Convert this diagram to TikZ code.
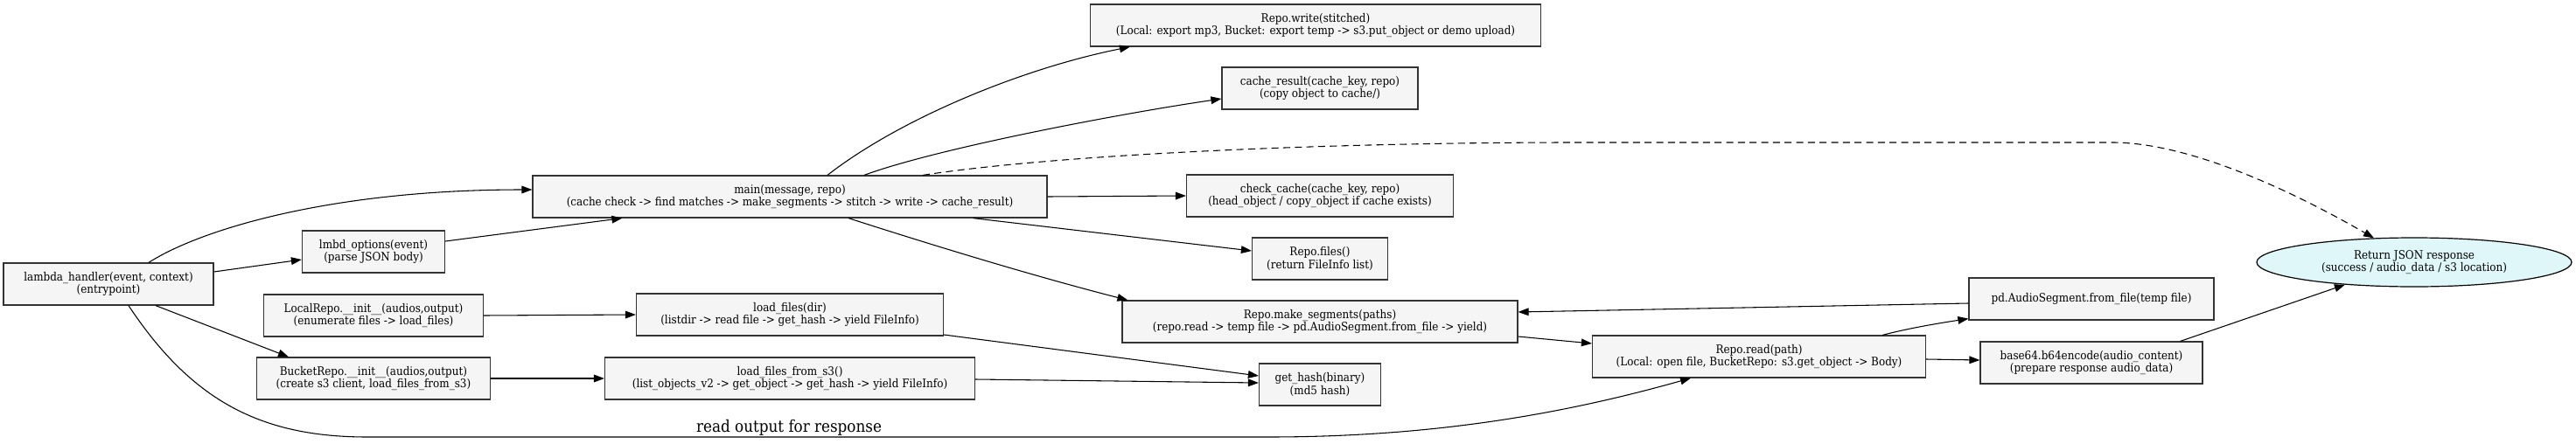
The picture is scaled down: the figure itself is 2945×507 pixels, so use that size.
\documentclass[tikz,border=0pt]{standalone}
\usepackage{fontspec}
\setmainfont{DejaVu Serif Condensed}
\usetikzlibrary{arrows.meta,calc,shapes.geometric}
\definecolor{boxfill}{HTML}{F5F5F5}
\definecolor{retfill}{HTML}{E0F7FA}
\begin{document}
\begin{tikzpicture}[x=0.75pt,y=-0.75pt,
  box/.style={draw=black!80, fill=boxfill, line width=0.9pt, minimum height=36pt, inner sep=1pt, align=center, font=\fontsize{10}{11}\selectfont},
  retnode/.style={ellipse, draw=black, fill=retfill, line width=0.9pt, minimum width=270pt, minimum height=42pt, inner sep=0pt, align=center, font=\fontsize{10}{11}\selectfont},
  edge/.style={line width=0.8pt, -{Triangle[length=9pt,width=6.5pt]}},
  dashededge/.style={edge, dash pattern=on 6pt off 4pt},
  lbl/.style={font=\fontsize{14}{16}\selectfont, inner sep=1pt}
]
\useasboundingbox (0,0) rectangle (2945,507);

\node[box, minimum width=180pt] (lam) at (124,325) {lambda\_handler(event, context)\\(entrypoint)};
\node[box, minimum width=122.25pt] (lmbd) at (427,288) {lmbd\_options(event)\\(parse JSON body)};
\node[box, minimum width=188.25pt] (local) at (427,361) {LocalRepo.\_\_init\_\_(audios,output)\\(enumerate files -> load\_files)};
\node[box, minimum width=200.25pt] (bucket) at (427,433) {BucketRepo.\_\_init\_\_(audios,output)\\(create s3 client, load\_files\_from\_s3)};
\node[box, minimum width=441pt] (main) at (903,225) {main(message, repo)\\(cache check -> find matches -> make\_segments -> stitch -> write -> cache\_result)};
\node[box, minimum width=263.25pt] (loadf) at (903,360) {load\_files(dir)\\(listdir -> read file -> get\_hash -> yield FileInfo)};
\node[box, minimum width=317.25pt] (loads3) at (903,433) {load\_files\_from\_s3()\\(list\_objects\_v2 -> get\_object -> get\_hash -> yield FileInfo)};
\node[box, minimum width=386.25pt] (write) at (1504,29) {Repo.write(stitched)\\(Local: export mp3, Bucket: export temp -> s3.put\_object or demo upload)};
\node[box, minimum width=168pt] (cacher) at (1509,101) {cache\_result(cache\_key, repo)\\(copy object to cache/)};
\node[box, minimum width=228.75pt] (checkc) at (1509,224) {check\_cache(cache\_key, repo)\\(head\_object / copy\_object if cache exists)};
\node[box, minimum width=116.25pt] (files) at (1509,296) {Repo.files()\\(return FileInfo list)};
\node[box, minimum width=339pt] (makes) at (1509,368) {Repo.make\_segments(paths)\\(repo.read -> temp file -> pd.AudioSegment.from\_file -> yield)};
\node[box, minimum width=104.25pt] (hash) at (1509,440) {get\_hash(binary)\\(md5 hash)};
\node[box, minimum width=285.75pt] (read) at (2011,408) {Repo.read(path)\\(Local: open file, BucketRepo: s3.get\_object -> Body)};
\node[box, minimum width=210pt] (pdaudio) at (2391,342) {pd.AudioSegment.from\_file(temp file)};
\node[box, minimum width=190.5pt] (b64) at (2391,415) {base64.b64encode(audio\_content)\\(prepare response audio\_data)};
\node[retnode] (ret) at (2760,300) {Return JSON response\\(success / audio\_data / s3 location)};

% edges
\draw[edge] ($(lam.north)+(46,0)$) .. controls (230,262) and (380,217) .. ($(main.west)+(0,-8)$);
\draw[edge] ($(lam.east)+(0,-14)$) -- ($(lmbd.west)+(0,9)$);
\draw[edge] ($(lam.south)+(54,0)$) -- ($(bucket.north)+(-97,0)$);
\draw[edge] ($(lam.south)+(23,0)$) .. controls (220,460) and (300,500) .. (420,500)
   -- node[pos=0.468, above, lbl] (rlabel) {read output for response} (1450,500)
   .. controls (1650,500) and (1800,470) .. ($(read.south)+(-78,0)$);
\draw[edge] ($(lmbd.east)+(0,-12)$) -- ($(main.south west)+(103,0)$);
\draw[edge] (local.east) -- (loadf.west);
\draw[edge] (bucket.east) -- (loads3.west);
\draw[edge] ($(loadf.east)+(0,23)$) -- ($(hash.west)+(0,-10)$);
\draw[edge] ($(loads3.east)+(0,1)$) -- ($(hash.west)+(0,-2)$);
\draw[edge] ($(main.north)+(43,0)$) .. controls (1030,135) and (1170,78) .. ($(write.south west)+(46,0)$);
\draw[edge] ($(main.north)+(85,0)$) .. controls (1070,170) and (1280,130) .. ($(cacher.west)+(0,12)$);
\draw[dashededge] ($(main.north)+(152,0)$) .. controls (1200,178) and (1500,163) .. (1800,163)
   -- (2415,163) .. controls (2490,163) and (2595,204) .. (ret.149);
\draw[edge] (main.east) -- (checkc.west);
\draw[edge] ($(main.south east)+(-85,0)$) -- ($(files.west)+(0,-9)$);
\draw[edge] ($(main.south)+(67,0)$) .. controls (1080,285) and (1190,318) .. ($(makes.north west)+(7,0)$);
\draw[edge] ($(makes.east)+(0,17)$) -- ($(read.west)+(0,-15)$);
\draw[edge] ($(read.north east)+(-50,0)$) .. controls (2180,376) and (2215,370) .. ($(pdaudio.south west)+(0,-2)$);
\draw[edge] ($(pdaudio.west)+(0,5)$) -- ($(makes.east)+(0,-11)$);
\draw[edge] ($(read.east)+(0,3)$) -- ($(b64.west)+(0,-3)$);
\draw[edge] ($(b64.north east)+(-26,0)$) -- (ret.198);
\end{tikzpicture}
\end{document}
